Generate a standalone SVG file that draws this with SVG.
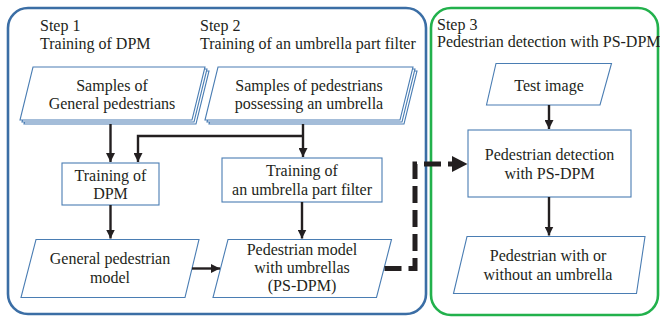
<svg xmlns="http://www.w3.org/2000/svg" width="660" height="320" viewBox="0 0 660 320">
  <style>
    .panel { fill: none; stroke-width: 2.6; }
    .step1 { stroke: #3b6ea5; }
    .step3 { stroke: #22b14c; }
    .node { fill: #ffffff; stroke: #4a7db3; stroke-width: 1.1; }
    text { font-family: 'Liberation Serif', 'Times New Roman', serif; font-size: 16px; fill: #231f20; }
    .mid { text-anchor: middle; }
    .flow { fill: none; stroke: #231f20; stroke-width: 2.4; }
    .dash { fill: none; stroke: #231f20; stroke-width: 5; stroke-dasharray: 17 7; }
  </style>
  <defs>
    <marker id="head" viewBox="0 0 10 10" refX="10" refY="5" markerWidth="9" markerHeight="9" markerUnits="userSpaceOnUse" orient="auto">
      <path d="M0,0 L10,5 L0,10 z" fill="#231f20"/>
    </marker>
  </defs>

  <!-- stage panels -->
  <rect class="panel step1" x="8" y="8" width="418" height="306" rx="20"/>
  <rect class="panel step3" x="431" y="8" width="227" height="307" rx="20"/>

  <!-- stage headings -->
  <g id="headings">
    <text x="40" y="30.5">Step 1</text>
    <text x="40" y="48.5">Training of DPM</text>
    <text x="200" y="30.5">Step 2</text>
    <text x="200" y="48.5">Training of an umbrella part filter</text>
    <text x="437" y="29.5">Step 3</text>
    <text x="437" y="47">Pedestrian detection with PS-DPM</text>
  </g>

  <!-- nodes -->
  <g id="samples-general">
    <polygon class="node" points="37,71 209,71 196,124 24,124"/>
    <polygon class="node" points="35,69 207,69 194,122 22,122"/>
    <polygon class="node" points="33,67 205,67 192,120 20,120"/>
    <text class="mid" x="112" y="90.5">Samples of</text>
    <text class="mid" x="112" y="108.5">General pedestrians</text>
  </g>

  <g id="samples-umbrella">
    <polygon class="node" points="222,71 417,71 404,124 209,124"/>
    <polygon class="node" points="220,69 415,69 402,122 207,122"/>
    <polygon class="node" points="218,67 413,67 400,120 205,120"/>
    <text class="mid" x="309" y="90.5">Samples of pedestrians</text>
    <text class="mid" x="309" y="108.5">possessing an umbrella</text>
  </g>

  <g id="train-dpm">
    <rect class="node" x="62" y="163" width="97" height="42"/>
    <text class="mid" x="110.5" y="181">Training of</text>
    <text class="mid" x="110.5" y="199">DPM</text>
  </g>

  <g id="train-umbrella">
    <rect class="node" x="222" y="158" width="160" height="44"/>
    <text class="mid" x="302" y="176">Training of</text>
    <text class="mid" x="302" y="194.5">an umbrella part filter</text>
  </g>

  <g id="general-model">
    <polygon class="node" points="36,239.5 199,239.5 185,297.5 21,297.5"/>
    <text class="mid" x="110" y="263.5">General pedestrian</text>
    <text class="mid" x="110" y="283">model</text>
  </g>

  <g id="ps-dpm-model">
    <polygon class="node" points="228,239.5 391.5,239.5 376.5,297.5 213,297.5"/>
    <text class="mid" x="302" y="254.5">Pedestrian model</text>
    <text class="mid" x="302" y="273">with umbrellas</text>
    <text class="mid" x="302" y="291">(PS-DPM)</text>
  </g>

  <g id="test-image">
    <polygon class="node" points="496,63.5 611.5,63.5 600,105 486.5,105"/>
    <text class="mid" x="549" y="90.5">Test image</text>
  </g>

  <g id="detection">
    <rect class="node" x="468" y="130" width="163" height="67"/>
    <text class="mid" x="549.5" y="159.5">Pedestrian detection</text>
    <text class="mid" x="549.5" y="178.5">with PS-DPM</text>
  </g>

  <g id="result">
    <polygon class="node" points="467,236.5 645,236.5 636.5,293.5 453.5,293.5"/>
    <text class="mid" x="548" y="260.5">Pedestrian with or</text>
    <text class="mid" x="548" y="280">without an umbrella</text>
  </g>

  <!-- connectors -->
  <g id="connectors">
    <path class="flow" d="M110.5,124 V162" marker-end="url(#head)"/>
    <path class="flow" d="M303,124 V157" marker-end="url(#head)"/>
    <path class="flow" d="M303,136 H138 V162" marker-end="url(#head)"/>
    <path class="flow" d="M110.5,205 V238.5" marker-end="url(#head)"/>
    <path class="flow" d="M302,202 V238.5" marker-end="url(#head)"/>
    <path class="flow" d="M192,268.5 H220" marker-end="url(#head)"/>
    <path class="flow" d="M549,105 V129" marker-end="url(#head)"/>
    <path class="flow" d="M549,197 V235.5" marker-end="url(#head)"/>
    <path class="dash" d="M384.5,268.5 H415 V164 H452"/>
    <polygon points="452,156 467.5,164 452,172" fill="#231f20"/>
  </g>
</svg>
